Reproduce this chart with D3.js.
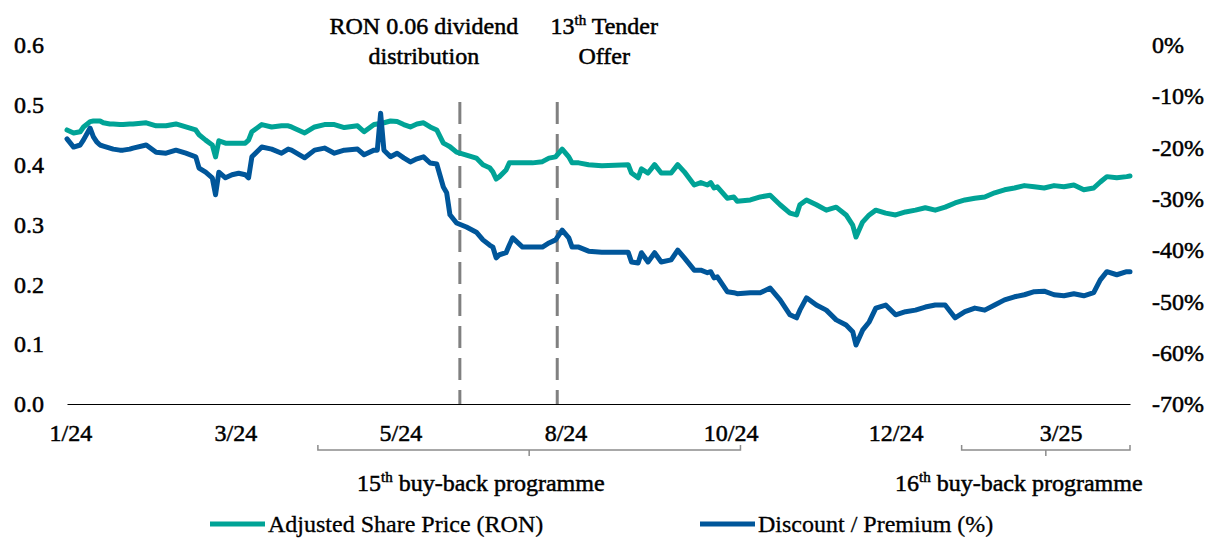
<!DOCTYPE html>
<html>
<head>
<meta charset="utf-8">
<script src="https://cdn.jsdelivr.net/npm/d3@7"></script>
<style>
  body { margin: 0; background: #fff; }
  text { font-family: "Liberation Serif", "Times New Roman", serif; fill: #000; }
</style>
</head>
<body>
<div id="chart"></div>
<script>
// trading-day index of each sample
const days = [0, 2, 4, 5, 7, 8, 9, 10, 11, 13, 14, 16, 17, 19, 20, 24, 27, 30, 33, 36, 39, 40, 42, 44, 45, 46, 48, 50, 52, 54, 55, 56, 59, 62, 65, 67, 68, 72, 75, 78, 81, 84, 88, 90, 93, 94, 95, 96, 98, 100, 102, 104, 106, 108, 110, 112, 114, 115, 116, 118, 121, 124, 126, 128, 129, 130, 131, 133, 134, 135, 138, 141, 144, 146, 148, 150, 152, 153, 155, 158, 162, 170, 171, 173, 174, 176, 178, 180, 183, 185, 187, 190, 192, 194, 195, 196, 197, 200, 202, 203, 207, 210, 213, 216, 219, 221, 222, 224, 227, 230, 233, 236, 238, 239, 241, 243, 245, 248, 251, 254, 257, 260, 263, 266, 269, 272, 275, 278, 281, 284, 287, 290, 293, 296, 299, 302, 305, 308, 311, 313, 315, 318, 321, 322];

// Adjusted Share Price (RON)
const price = [0.458, 0.453, 0.455, 0.463, 0.472, 0.473, 0.473, 0.473, 0.470, 0.468, 0.468, 0.467, 0.467, 0.468, 0.468, 0.470, 0.465, 0.465, 0.468, 0.463, 0.458, 0.450, 0.441, 0.433, 0.413, 0.440, 0.436, 0.436, 0.436, 0.436, 0.441, 0.455, 0.467, 0.463, 0.465, 0.465, 0.463, 0.453, 0.463, 0.467, 0.467, 0.462, 0.465, 0.455, 0.467, 0.468, 0.470, 0.470, 0.473, 0.472, 0.467, 0.463, 0.468, 0.470, 0.463, 0.458, 0.436, 0.433, 0.430, 0.421, 0.416, 0.411, 0.400, 0.395, 0.388, 0.376, 0.380, 0.391, 0.403, 0.403, 0.403, 0.403, 0.405, 0.411, 0.413, 0.426, 0.413, 0.403, 0.403, 0.400, 0.398, 0.400, 0.386, 0.378, 0.393, 0.386, 0.400, 0.386, 0.386, 0.400, 0.388, 0.366, 0.370, 0.366, 0.370, 0.361, 0.363, 0.344, 0.346, 0.339, 0.341, 0.346, 0.349, 0.333, 0.319, 0.316, 0.333, 0.341, 0.333, 0.324, 0.329, 0.316, 0.299, 0.279, 0.304, 0.316, 0.324, 0.319, 0.316, 0.321, 0.324, 0.328, 0.324, 0.329, 0.336, 0.341, 0.344, 0.346, 0.353, 0.358, 0.361, 0.365, 0.363, 0.361, 0.365, 0.363, 0.366, 0.358, 0.361, 0.371, 0.380, 0.378, 0.380, 0.381];

// Discount / Premium (%)
const discount = [-18.3, -19.9, -19.5, -18.5, -16.2, -17.9, -18.9, -19.5, -19.7, -20.1, -20.3, -20.5, -20.5, -20.3, -20.1, -19.5, -20.9, -21.1, -20.5, -21.1, -21.8, -24.0, -24.8, -25.9, -29.2, -24.8, -25.9, -25.3, -25.0, -25.3, -25.9, -21.8, -19.9, -20.3, -21.1, -20.3, -20.5, -22.0, -20.5, -20.1, -21.1, -20.5, -20.3, -21.4, -20.5, -20.5, -13.3, -20.5, -21.8, -21.1, -22.0, -22.8, -22.2, -21.8, -23.0, -23.2, -27.7, -28.8, -33.1, -34.7, -35.5, -36.5, -38.0, -39.0, -39.4, -41.5, -40.9, -40.5, -39.0, -37.6, -39.4, -39.4, -39.4, -38.6, -38.0, -36.1, -37.6, -39.4, -39.4, -40.2, -40.4, -40.4, -42.3, -42.5, -40.5, -42.3, -40.5, -42.3, -41.9, -40.0, -41.5, -43.9, -43.9, -44.4, -44.2, -45.4, -45.2, -48.1, -48.3, -48.5, -48.3, -48.3, -47.4, -49.7, -52.6, -53.2, -51.7, -49.3, -50.7, -51.7, -53.6, -54.6, -55.9, -58.5, -55.6, -54.0, -51.3, -50.7, -52.6, -52.0, -51.7, -51.1, -50.7, -50.7, -53.2, -52.0, -51.3, -51.7, -50.7, -49.7, -49.1, -48.7, -48.1, -48.0, -48.7, -48.9, -48.5, -48.9, -48.3, -45.8, -44.2, -44.8, -44.2, -44.2];

const xTickDays = [1, 51, 101, 151, 201, 251, 301];
const xTickLabels = ["1/24", "3/24", "5/24", "8/24", "10/24", "12/24", "3/25"];
const leftTicks = [0, 0.1, 0.2, 0.3, 0.4, 0.5, 0.6];
const rightTicks = [0, -10, -20, -30, -40, -50, -60, -70];

const events = [
  { day: 119, lines: [["RON 0.06 dividend"], ["distribution"]], dx: -36 },
  { day: 148.5, lines: [["13", "th", " Tender"], ["Offer"]], dx: 47 }
];
const programmes = [
  { from: 76, to: 204, label: ["15", "th", " buy-back programme"], textX: 357 },
  { from: 271, to: 322, label: ["16", "th", " buy-back programme"], textX: 895 }
];

const width = 1214, height = 539;
const teal = "#00a396", blue = "#00569a";
const ink = 0.5; // thin outline to make the serif text as dark as the original

const svg = d3.select("#chart").append("svg")
  .attr("width", width)
  .attr("height", height);

const x = d3.scaleLinear().domain([0, 322]).range([67, 1130]);
const yL = d3.scaleLinear().domain([0, 0.6]).range([404, 45]);
const yR = d3.scaleLinear().domain([-70, 0]).range([404, 45]);

// axes
const xAxis = svg.append("g")
  .attr("transform", "translate(0,404)")
  .call(d3.axisBottom(x).tickValues(xTickDays).tickSize(0)
    .tickFormat((d, i) => xTickLabels[i]));
xAxis.select(".domain").attr("stroke", "#000").attr("stroke-width", 1.2);
xAxis.selectAll("text").attr("dy", 0).attr("y", 37).attr("font-size", 24)
  .attr("font-family", "Liberation Serif").attr("stroke", "#000").attr("stroke-width", ink);

const leftAxis = svg.append("g")
  .attr("transform", "translate(44,0)")
  .call(d3.axisLeft(yL).tickValues(leftTicks).tickSize(0).tickFormat(d3.format(".1f")));
leftAxis.select(".domain").remove();
leftAxis.selectAll("text").attr("x", 0).attr("font-size", 24)
  .attr("font-family", "Liberation Serif").attr("stroke", "#000").attr("stroke-width", ink);

const rightAxis = svg.append("g")
  .attr("transform", "translate(1152,0)")
  .call(d3.axisRight(yR).tickValues(rightTicks).tickSize(0).tickFormat(d => d + "%"));
rightAxis.select(".domain").remove();
rightAxis.selectAll("text").attr("x", 0).attr("font-size", 24)
  .attr("font-family", "Liberation Serif").attr("stroke", "#000").attr("stroke-width", ink);

// event markers
events.forEach(ev => {
  svg.append("line")
    .attr("x1", x(ev.day)).attr("x2", x(ev.day))
    .attr("y1", 102).attr("y2", 404)
    .attr("stroke", "#808080").attr("stroke-width", 3)
    .attr("stroke-dasharray", "22,10");
  ev.lines.forEach((parts, li) => {
    const t = svg.append("text")
      .attr("x", x(ev.day) + ev.dx)
      .attr("y", 34 + li * 30)
      .attr("text-anchor", "middle")
      .attr("font-size", 24)
      .attr("stroke", "#000").attr("stroke-width", ink);
    parts.forEach((p, pi) => {
      const s = t.append("tspan").text(p);
      if (parts.length > 1 && pi === 1) s.attr("font-size", 15).attr("dy", -9);
      if (parts.length > 1 && pi === 2) s.attr("dy", 9);
    });
  });
});

// series
const priceLine = d3.line().x((d, i) => x(days[i])).y(d => yL(d));
const discLine = d3.line().x((d, i) => x(days[i])).y(d => yR(d));

svg.append("path").datum(price)
  .attr("d", priceLine)
  .attr("fill", "none").attr("stroke", teal).attr("stroke-width", 5)
  .attr("stroke-linejoin", "round").attr("stroke-linecap", "round");

svg.append("path").datum(discount)
  .attr("d", discLine)
  .attr("fill", "none").attr("stroke", blue).attr("stroke-width", 5)
  .attr("stroke-linejoin", "round").attr("stroke-linecap", "round");

// buy-back programme brackets
programmes.forEach(pr => {
  const x0 = x(pr.from), x1 = x(pr.to), xm = (x0 + x1) / 2;
  svg.append("path")
    .attr("d", `M${x0},445 V450 H${x1} V445 M${xm},450 V456`)
    .attr("fill", "none").attr("stroke", "#8c8c8c").attr("stroke-width", 1.5);
  const t = svg.append("text")
    .attr("x", pr.textX)
    .attr("y", 491)
    .attr("font-size", 24)
    .attr("stroke", "#000").attr("stroke-width", ink);
  pr.label.forEach((p, pi) => {
    const s = t.append("tspan").text(p);
    if (pi === 1) s.attr("font-size", 15).attr("dy", -9);
    if (pi === 2) s.attr("dy", 9);
  });
});

// legend
const legend = [
  { name: "Adjusted Share Price (RON)", color: teal, x: 210 },
  { name: "Discount / Premium (%)", color: blue, x: 700 }
];
legend.forEach(l => {
  svg.append("line")
    .attr("x1", l.x).attr("x2", l.x + 55)
    .attr("y1", 524).attr("y2", 524)
    .attr("stroke", l.color).attr("stroke-width", 5);
  svg.append("text")
    .attr("x", l.x + 58).attr("y", 532)
    .attr("font-size", 24)
    .attr("stroke", "#000").attr("stroke-width", 0.3)
    .text(l.name);
});
</script>
</body>
</html>
